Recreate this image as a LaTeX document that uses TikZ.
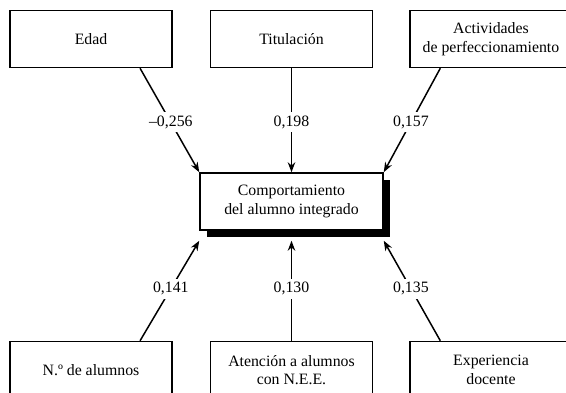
\documentclass[tikz,border=0pt]{standalone}
\usepackage{fontspec}
\setmainfont{Liberation Serif}
\usepackage{tikz}
\usetikzlibrary{arrows.meta,calc,positioning,shadows}
\tikzset{
  factor/.style={
    draw=black, line width=0.85pt, fill=white,
    minimum width=3.24cm, minimum height=1.14cm, align=center,
    font=\fontsize{9}{10.5}\selectfont
  },
  outcome/.style={
    factor, minimum width=3.66cm,
    drop shadow={shadow xshift=0.14cm, shadow yshift=-0.14cm, fill=black, opacity=1}
  },
  coef/.style={fill=white, inner sep=2pt, font=\fontsize{9}{10.5}\selectfont},
  flow/.style={-{Stealth[length=2mm,width=1.5mm]}, line width=0.85pt, draw=black}
}

\begin{document}
\begin{tikzpicture}
  \useasboundingbox (-5.83,-3.83) rectangle (5.49,4.03);
  \node[outcome] (comp) {Comportamiento\\del alumno integrado};
  \node[factor,above=2.08cm of comp] (tit) {Titulación};
  \node[factor,left=0.74cm of tit] (edad) {Edad};
  \node[factor,right=0.72cm of tit] (activ) {Actividades\\de perfeccionamiento};
  \node[factor,below=2.2cm of comp] (nee) {Atención a alumnos\\con N.E.E.};
  \node[factor,left=0.74cm of nee] (nalum) {N.º de alumnos};
  \node[factor,right=0.72cm of nee] (exper) {Experiencia\\docente};
  % upper factors
  \draw[flow] ($(edad.south)!0.6!(edad.south east)$) -- node[coef,pos=0.52] {--0,256} (comp.north west);
  \draw[flow] (tit.south) -- node[coef,pos=0.52] {0,198} (comp.north);
  \draw[flow] ($(activ.south)!0.62!(activ.south west)$) -- node[coef,pos=0.52] {0,157} (comp.north east);
  % lower factors
  \draw[flow] ($(nalum.north)!0.6!(nalum.north east)$) -- node[coef,pos=0.52] {0,141} ([yshift=-2mm]comp.south west);
  \draw[flow] (nee.north) -- node[coef,pos=0.52] {0,130} ([yshift=-2mm]comp.south);
  \draw[flow] ($(exper.north)!0.62!(exper.north west)$) -- node[coef,pos=0.52] {0,135} ([yshift=-2mm]comp.south east);
\end{tikzpicture}
\end{document}
